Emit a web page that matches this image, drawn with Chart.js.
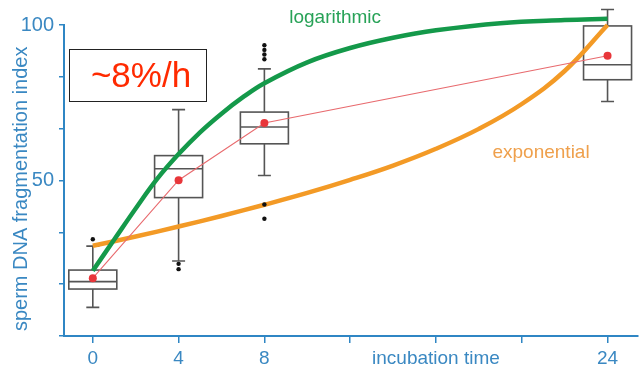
<!DOCTYPE html>
<html>
<head>
<meta charset="utf-8">
<script src="https://cdn.jsdelivr.net/npm/chart.js@4/dist/chart.umd.min.js"></script>
<style>
html,body{margin:0;padding:0;background:#fff;}
canvas{display:block;}
</style>
</head>
<body>
<canvas id="c" width="642" height="368"></canvas>
<script>
// ---- data ----
const boxTimes    = [0, 4, 8, 24];
const whiskerLow  = [9.2, 24.1, 51.6, 75.4];
const q1          = [15.1, 44.5, 61.8, 82.4];
const median      = [17.5, 53.8, 67.2, 87.2];
const q3          = [21.2, 58.0, 72.0, 99.7];
const whiskerHigh = [28.9, 72.8, 85.9, 105.0];
const means       = [18.6, 50.1, 68.5, 90.1];

const outlierTimes  = [0, 4, 4, 8, 8, 8, 8, 8, 8];
const outlierValues = [31.1, 23.2, 21.5, 93.5, 92.0, 90.5, 89.0, 42.3, 37.7];

const logTimes  = [0, 1, 2, 3, 4, 5, 6, 7, 8, 10, 12, 14, 16, 19, 22, 24];
const logValues = [21, 31, 41, 50.5, 58.5, 65.5, 71.5, 76.8, 81.3, 88, 92.6, 95.9, 98.3, 100.6, 101.6, 102];

const expTimes  = [0, 2, 4, 6, 8, 10, 12, 14, 16, 18, 20, 22, 24];
const expValues = [29, 32, 35.2, 38.6, 42.2, 46, 50.2, 54.8, 60.2, 66.6, 74.6, 85.2, 100];

const xTickValues = [0, 4, 8, 12, 16, 20, 24];
const xTickLabels = ['0', '4', '8', '', 'incubation time', '', '24'];
const yTickValues = [0, 100/6, 200/6, 50, 400/6, 500/6, 100];
const yTickLabels = ['', '', '', '50', '', '', '100'];

// ---- styles ----
const BLUE = '#2f86c4';
const BLUE_TEXT = '#3a88c2';
const GREEN = '#14994a';
const ORANGE = '#f39a26';
const RED = '#e8363a';
const BOXC = '#555555';
const FONT = "'Liberation Sans', Arial, sans-serif";

Chart.defaults.font.family = FONT;

const boxPlugin = {
  id: 'boxes',
  beforeDatasetsDraw(chart) {
    const {ctx, scales: {x, y}} = chart;
    ctx.save();
    ctx.strokeStyle = BOXC;
    ctx.lineWidth = 1.6;
    const half = 24, cap = 6.5;
    for (let i = 0; i < boxTimes.length; i++) {
      const cx = x.getPixelForValue(boxTimes[i]);
      const yl = y.getPixelForValue(whiskerLow[i]);
      const y1 = y.getPixelForValue(q1[i]);
      const ym = y.getPixelForValue(median[i]);
      const y3 = y.getPixelForValue(q3[i]);
      const yh = y.getPixelForValue(whiskerHigh[i]);
      ctx.beginPath();
      ctx.moveTo(cx, yl); ctx.lineTo(cx, y1);
      ctx.moveTo(cx, y3); ctx.lineTo(cx, yh);
      ctx.moveTo(cx - cap, yl); ctx.lineTo(cx + cap, yl);
      ctx.moveTo(cx - cap, yh); ctx.lineTo(cx + cap, yh);
      ctx.moveTo(cx - half, ym); ctx.lineTo(cx + half, ym);
      ctx.stroke();
      ctx.strokeRect(cx - half, y3, half * 2, y1 - y3);
    }
    ctx.restore();
  },
  afterDraw(chart) {
    const {ctx, scales: {x, y}} = chart;
    ctx.save();
    ctx.textAlign = 'center';
    ctx.textBaseline = 'middle';
    ctx.font = "19px " + FONT;
    ctx.fillStyle = '#27a257';
    ctx.fillText('logarithmic', x.getPixelForValue(11.3), y.getPixelForValue(102.2));
    ctx.fillStyle = '#efa04c';
    ctx.fillText('exponential', x.getPixelForValue(20.9), y.getPixelForValue(59));
    // inset rate box
    ctx.fillStyle = '#ffffff';
    ctx.fillRect(69.5, 49.5, 137, 52);
    ctx.strokeStyle = '#222';
    ctx.lineWidth = 1;
    ctx.strokeRect(69.5, 49.5, 137, 52);
    ctx.fillStyle = '#ff2a00';
    ctx.font = "35px " + FONT;
    ctx.fillText('~8%/h', 141, 77);
    ctx.restore();
  }
};

new Chart(document.getElementById('c'), {
  type: 'line',
  data: {
    datasets: [
      {
        type: 'scatter',
        label: 'outliers',
        data: outlierTimes.map((t, i) => ({x: t, y: outlierValues[i]})),
        pointRadius: 2.2,
        pointBackgroundColor: '#111',
        pointBorderWidth: 0,
        showLine: false,
        clip: false,
        order: 0
      },
      {
        label: 'mean',
        data: boxTimes.map((t, i) => ({x: t, y: means[i]})),
        borderColor: '#e86a6e',
        borderWidth: 1.1,
        pointRadius: 4,
        pointBackgroundColor: RED,
        pointBorderWidth: 0,
        tension: 0,
        clip: false,
        order: 1
      },
      {
        label: 'logarithmic',
        data: logTimes.map((t, i) => ({x: t, y: logValues[i]})),
        borderColor: GREEN,
        borderWidth: 4.5,
        pointRadius: 0,
        tension: 0.4,
        clip: false,
        order: 2
      },
      {
        label: 'exponential',
        data: expTimes.map((t, i) => ({x: t, y: expValues[i]})),
        borderColor: ORANGE,
        borderWidth: 4.5,
        pointRadius: 0,
        tension: 0.4,
        clip: false,
        order: 3
      }
    ]
  },
  options: {
    responsive: false,
    animation: false,
    layout: {padding: {top: 25, right: 0, bottom: 0, left: 0}},
    plugins: {legend: {display: false}, tooltip: {enabled: false}},
    scales: {
      x: {
        type: 'linear',
        min: -1.343,
        max: 25.42,
        afterBuildTicks: s => { s.ticks = xTickValues.map(v => ({value: v})); },
        afterFit: s => { s.height = 32; },
        ticks: {
          callback: v => xTickLabels[xTickValues.indexOf(v)],
          color: BLUE_TEXT,
          font: {size: 19},
          padding: 4,
          maxRotation: 0,
          autoSkip: false
        },
        grid: {drawOnChartArea: false, drawTicks: true, tickLength: 7, color: BLUE, lineWidth: 1.5},
        border: {display: true, color: BLUE, width: 2}
      },
      y: {
        min: 0,
        max: 100,
        afterBuildTicks: s => { s.ticks = yTickValues.map(v => ({value: v})); },
        afterFit: s => { s.width = 64; },
        ticks: {
          callback: v => {
            const i = yTickValues.findIndex(t => Math.abs(t - v) < 1e-6);
            return i >= 0 ? yTickLabels[i] : '';
          },
          color: BLUE_TEXT,
          font: {size: 20},
          padding: 5,
          autoSkip: false
        },
        grid: {drawOnChartArea: false, drawTicks: true, tickLength: 5, color: BLUE, lineWidth: 1.5},
        border: {display: true, color: BLUE, width: 2},
        title: {
          display: true,
          text: 'sperm DNA fragmentation index\u00a0\u00a0\u00a0',
          color: BLUE_TEXT,
          font: {size: 20},
          padding: {top: 9, bottom: 0}
        }
      }
    }
  },
  plugins: [boxPlugin]
});
</script>
</body>
</html>
